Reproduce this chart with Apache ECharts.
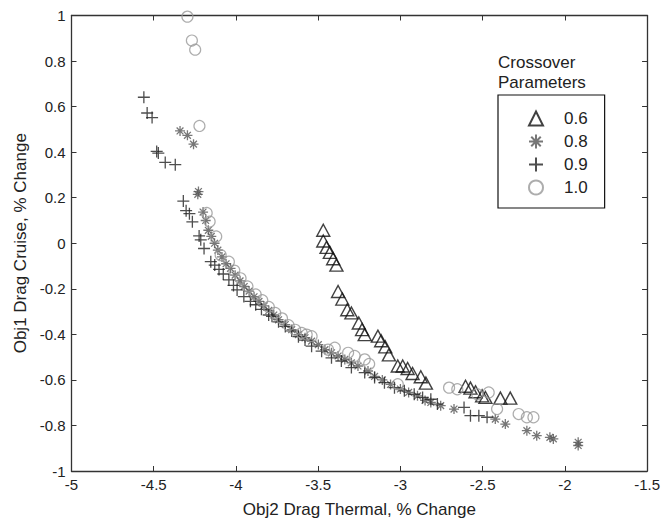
<!DOCTYPE html>
<html>
<head>
<meta charset="utf-8">
<script src="https://cdn.jsdelivr.net/npm/echarts@6/dist/echarts.min.js"></script>
<style>
html,body{margin:0;padding:0;background:#fff;}
#chart{width:663px;height:523px;}
</style>
</head>
<body>
<div id="chart"></div>
<script>
// ---- Data ----
var legendTitle = ['Crossover', 'Parameters'];
var seriesNames = ['0.6', '0.8', '0.9', '1.0'];
var xTitle = 'Obj2 Drag Thermal, % Change';
var yTitle = 'Obj1 Drag Cruise, % Change';
var xRange = [-5, -1.5, 0.5];
var yRange = [-1, 1, 0.2];

var pts06 = [
  [-3.469,0.057],[-3.469,0.010],[-3.449,-0.018],[-3.429,-0.040],[-3.409,-0.068],[-3.389,-0.096],
  [-3.379,-0.212],[-3.353,-0.245],[-3.323,-0.292],[-3.298,-0.306],[-3.253,-0.350],[-3.233,-0.379],
  [-3.217,-0.401],[-3.137,-0.408],[-3.117,-0.428],[-3.092,-0.455],[-3.070,-0.490],
  [-3.016,-0.539],[-2.986,-0.539],[-2.956,-0.550],[-2.926,-0.572],[-2.876,-0.586],[-2.845,-0.614],
  [-2.604,-0.628],[-2.574,-0.636],[-2.543,-0.652],[-2.503,-0.670],[-2.483,-0.677],[-2.392,-0.680],[-2.332,-0.680]
];
var pts08 = [
  [-4.340,0.493],[-4.295,0.474],[-4.258,0.435],[-4.228,0.227],[-4.232,0.215],[-4.200,0.137],
  [-4.184,0.100],[-4.168,0.057],[-4.150,0.030],[-4.130,0.000],[-4.110,-0.030],[-4.085,-0.060],
  [-4.060,-0.090],[-4.033,-0.110],[-4.005,-0.140],[-3.975,-0.165],[-3.950,-0.190],[-3.920,-0.210],
  [-3.890,-0.235],[-3.860,-0.255],[-3.830,-0.275],[-3.800,-0.295],[-3.770,-0.315],[-3.741,-0.336],
  [-3.700,-0.357],[-3.661,-0.379],[-3.620,-0.401],[-3.580,-0.415],[-3.540,-0.430],[-3.499,-0.445],
  [-3.459,-0.467],[-3.419,-0.481],[-3.379,-0.495],[-3.338,-0.510],[-3.298,-0.525],[-3.258,-0.539],
  [-3.197,-0.561],[-3.157,-0.585],[-3.110,-0.600],[-3.060,-0.620],[-3.000,-0.640],[-2.950,-0.655],
  [-2.896,-0.670],[-2.850,-0.690],[-2.815,-0.699],[-2.755,-0.713],[-2.674,-0.728],[-2.423,-0.772],
  [-2.362,-0.794],[-2.231,-0.823],[-2.171,-0.845],[-2.091,-0.852],[-2.070,-0.859],[-1.919,-0.874],
  [-1.919,-0.888]
];
var pts09 = [
  [-4.560,0.641],[-4.540,0.572],[-4.510,0.552],[-4.482,0.403],[-4.472,0.396],[-4.430,0.355],
  [-4.369,0.345],[-4.320,0.185],[-4.303,0.143],[-4.283,0.130],[-4.265,0.094],[-4.224,0.032],
  [-4.214,0.015],[-4.194,-0.023],[-4.153,-0.081],[-4.129,-0.096],[-4.103,-0.115],[-4.077,-0.135],
  [-4.043,-0.161],[-4.015,-0.185],[-3.993,-0.205],[-3.952,-0.234],[-3.912,-0.255],[-3.880,-0.270],
  [-3.845,-0.290],[-3.801,-0.315],[-3.781,-0.321],[-3.741,-0.345],[-3.700,-0.365],[-3.661,-0.385],
  [-3.620,-0.410],[-3.580,-0.425],[-3.540,-0.452],[-3.479,-0.474],[-3.419,-0.503],[-3.359,-0.517],
  [-3.298,-0.546],[-3.217,-0.568],[-3.157,-0.590],[-3.097,-0.612],[-3.036,-0.634],[-2.976,-0.648],
  [-2.916,-0.663],[-2.865,-0.677],[-2.815,-0.685],[-2.775,-0.706],[-2.613,-0.721],[-2.574,-0.757],
  [-2.523,-0.757],[-2.473,-0.764]
];
var pts10 = [
  [-4.295,0.995],[-4.268,0.890],[-4.248,0.850],[-4.222,0.515],[-4.178,0.133],[-4.160,0.095],
  [-4.120,0.030],[-4.093,-0.052],[-4.043,-0.081],[-4.010,-0.120],[-3.972,-0.154],[-3.930,-0.190],
  [-3.880,-0.225],[-3.840,-0.250],[-3.800,-0.280],[-3.761,-0.306],[-3.720,-0.330],[-3.680,-0.360],
  [-3.640,-0.380],[-3.600,-0.394],[-3.570,-0.401],[-3.540,-0.408],[-3.440,-0.467],[-3.399,-0.459],
  [-3.318,-0.481],[-3.278,-0.495],[-3.217,-0.510],[-3.190,-0.530],[-3.016,-0.619],[-2.704,-0.634],
  [-2.654,-0.641],[-2.533,-0.663],[-2.463,-0.655],[-2.412,-0.728],[-2.281,-0.750],[-2.231,-0.764],
  [-2.191,-0.764]
];

// ---- Chart ----
var FONT = 'Liberation Sans, Arial, sans-serif';
var chart = echarts.init(document.getElementById('chart'), null, {renderer: 'svg'});

var clear = 'rgba(0,0,0,0)';
var plusPath = 'path://M0,5L10,5M5,0L5,10';
var starPath = 'path://M0,5L10,5M5,0L5,10M1.6,1.6L8.4,8.4M8.4,1.6L1.6,8.4';

function baseAxis(pos, showLabel, range) {
  return {
    type: 'value', position: pos, min: range[0], max: range[1], interval: range[2],
    axisLine: {show: true, onZero: false, lineStyle: {color: '#333', width: 1.3}},
    axisTick: {show: true, inside: true, length: 5, lineStyle: {color: '#333', width: 1}},
    axisLabel: {show: showLabel, color: '#222', fontFamily: FONT, fontSize: 15, margin: 6},
    splitLine: {show: false}
  };
}

var xBottom = baseAxis('bottom', true, xRange);
xBottom.name = xTitle; xBottom.nameLocation = 'middle'; xBottom.nameGap = 30;
xBottom.nameTextStyle = {color: '#222', fontFamily: FONT, fontSize: 17};
var xTop = baseAxis('top', false, xRange);
var yLeft = baseAxis('left', true, yRange);
yLeft.name = yTitle; yLeft.nameLocation = 'middle'; yLeft.nameGap = 40;
yLeft.nameTextStyle = {color: '#222', fontFamily: FONT, fontSize: 17};
yLeft.axisLabel.formatter = function (v) { return String(Math.round(v * 10) / 10); };
var yRight = baseAxis('right', false, yRange);

chart.setOption({
  animation: false,
  backgroundColor: '#fff',
  grid: {left: 71.5, top: 15.5, width: 579.5, height: 458.5},
  xAxis: [xBottom, xTop],
  yAxis: [yLeft, yRight],
  graphic: [
    {type: 'text', left: 548 - 50, top: 54, style: {text: legendTitle[0], width: 100, align: 'center', fill: '#222', font: '17px ' + FONT}},
    {type: 'text', left: 548 - 50, top: 74, style: {text: legendTitle[1], width: 100, align: 'center', fill: '#222', font: '17px ' + FONT}}
  ],
  legend: {
    orient: 'vertical', left: 498, top: 95,
    padding: [15, 17, 12, 30],
    borderColor: '#111', borderWidth: 1.2,
    itemWidth: 14, itemHeight: 14, itemGap: 6,
    textStyle: {color: '#222', fontFamily: FONT, fontSize: 17, lineHeight: 14, padding: [0, 0, 0, 16]},
    data: seriesNames
  },
  series: [
    {name: seriesNames[0], type: 'scatter', data: pts06, symbol: 'triangle', symbolSize: [13, 12],
     itemStyle: {color: clear, borderColor: '#111', borderWidth: 1.4}},
    {name: seriesNames[1], type: 'scatter', data: pts08, symbol: starPath, symbolSize: 10,
     itemStyle: {color: clear, borderColor: '#555', borderWidth: 1.3}},
    {name: seriesNames[2], type: 'scatter', data: pts09, symbol: plusPath, symbolSize: 12,
     itemStyle: {color: clear, borderColor: '#222', borderWidth: 1.3}},
    {name: seriesNames[3], type: 'scatter', data: pts10, symbol: 'circle', symbolSize: 11,
     itemStyle: {color: clear, borderColor: '#999', borderWidth: 1.2}}
  ]
});
</script>
</body>
</html>
